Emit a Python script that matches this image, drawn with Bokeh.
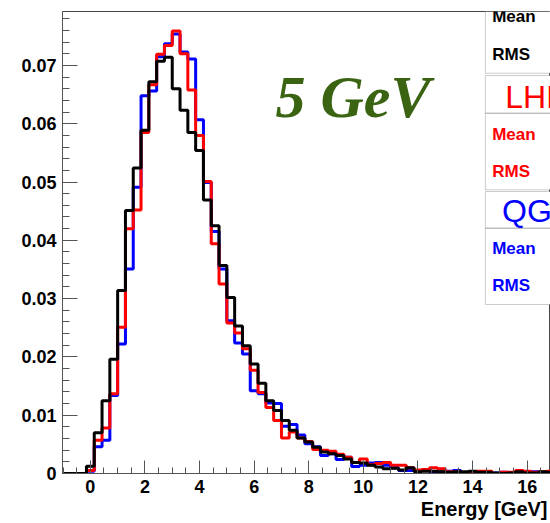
import numpy as np
from bokeh.plotting import figure
from bokeh.models import FixedTicker, Label, BoxAnnotation, CustomJSTickFormatter, Range1d, Title
from bokeh.embed import file_html
from bokeh.resources import INLINE

# histogram binning: first bin low edge and bin width (GeV)
bin_low = -1.0
bin_width = 2.0 / 7.0

# normalised bin contents (one value per bin, starting at bin_low)
black_vals = [0, 0, 0, 0.00125, 0.0070, 0.0125, 0.0196, 0.0314, 0.0451, 0.0524,
              0.0589, 0.0672, 0.0707, 0.0714, 0.0660, 0.0623, 0.0585, 0.0554, 0.0469, 0.0425,
              0.0357, 0.0302, 0.0253, 0.0219, 0.0188, 0.0155, 0.0125, 0.0108, 0.0091, 0.0074,
              0.0061, 0.0054, 0.0045, 0.0037, 0.0034, 0.0031, 0.0025, 0.0019, 0.0018, 0.0014,
              0.0011, 0.0008, 0.0009, 0.0006, 0.0010, 0.0003, 0.0004, 0.0004, 0.0003, 0.0002,
              0.0003, 0.0003, 0.0004, 0.0002, 0.0002, 0.0001, 0.0, 0.0001, 0.0003, 0.0001,
              0.0001, 0.0003, 0.0002]
red_vals = [0, 0, 0, 0.0005, 0.0057, 0.0078, 0.0137, 0.0251, 0.0420, 0.0452,
            0.0585, 0.0667, 0.0719, 0.0734, 0.0759, 0.0720, 0.0658, 0.0580, 0.0501, 0.0394,
            0.0325, 0.0258, 0.0241, 0.0214, 0.0177, 0.0139, 0.0113, 0.0091, 0.0061, 0.0071,
            0.0061, 0.0055, 0.0041, 0.0040, 0.0038, 0.0033, 0.0028, 0.0019, 0.0025, 0.0015,
            0.0017, 0.0019, 0.0014, 0.0014, 0.0010, 0.0006, 0.0007, 0.0010, 0.0008, 0.0003,
            0.0003, 0.0001, 0.0, 0.0004, 0.0004, 0.0, 0.0002, 0.0002, 0.0005, 0.0004,
            0.0002, 0.0003, 0.0004]
blue_vals = [0, 0, 0, 0.0004, 0.0046, 0.0057, 0.0134, 0.0222, 0.0351, 0.0491,
             0.0648, 0.0656, 0.0715, 0.0737, 0.0754, 0.0723, 0.0711, 0.0607, 0.0499, 0.0415,
             0.0351, 0.0262, 0.0224, 0.0205, 0.0142, 0.0137, 0.0121, 0.0120, 0.0081, 0.0084,
             0.0066, 0.0051, 0.0046, 0.0031, 0.0034, 0.0024, 0.0028, 0.0012, 0.0014, 0.0018,
             0.0019, 0.0014, 0.0010, 0.0005, 0.0005, 0.0005, 0.0005, 0.0003, 0.0003, 0.0004,
             0.0005, 0.0, 0.0002, 0.0002, 0.0002, 0.0001, 0.0002, 0.0001, 0.0002, 0.0002,
             0.0003, 0.0001, 0.0002]

x_ticks = [0, 2, 4, 6, 8, 10, 12, 14, 16]
y_ticks = [0, 0.01, 0.02, 0.03, 0.04, 0.05, 0.06, 0.07]

x_label = "Energy [GeV]"
energy_title = "5 GeV"
stat_titles = ["LHEP", "QGSP"]

FONT = "Liberation Sans"
X0, X1 = -1.02, 16.855
Y1 = 0.07925

p = figure(width=550, height=523, output_backend="svg", toolbar_location=None,
           x_range=Range1d(X0, X1), y_range=Range1d(0, Y1),
           min_border_left=62, min_border_right=0, min_border_top=11, min_border_bottom=50)
p.xgrid.visible = False
p.ygrid.visible = False
p.outline_line_color = "#444444"
p.outline_line_width = 1

n = len(black_vals)
edges = bin_low + bin_width * np.arange(n + 1)

def hist_line(vals, color):
    ys = list(vals) + [vals[-1]]
    p.step(x=edges, y=ys, mode="after", line_color=color, line_width=3)

hist_line(blue_vals, "#0000ff")
hist_line(red_vals, "#ff0000")
hist_line(black_vals, "#000000")

# axes styling (ROOT-like: ticks inside frame)
xa = p.xaxis[0]
ya = p.yaxis[0]
xa.ticker = FixedTicker(ticks=x_ticks, minor_ticks=list(np.arange(-1.0, 17.01, 0.5)))
ya.ticker = FixedTicker(ticks=y_ticks, minor_ticks=list(np.arange(0, 0.0792, 0.002)))
ya.formatter = CustomJSTickFormatter(code="return tick == 0 ? '0' : tick.toFixed(2);")
for ax in (xa, ya):
    ax.axis_line_color = "#555555"
    ax.major_tick_line_color = "#555555"
    ax.minor_tick_line_color = "#555555"
    ax.major_tick_out = 0
    ax.minor_tick_out = 0
    ax.major_label_text_font = FONT
    ax.major_label_text_font_style = "bold"
    ax.major_label_text_font_size = "18px"
    ax.major_label_text_color = "black"
xa.major_tick_in = 13
xa.minor_tick_in = 6
ya.major_tick_in = 15
ya.minor_tick_in = 7
xa.major_label_standoff = 6
ya.major_label_standoff = 6

# x-axis title, right aligned at the end of the axis (ROOT style)
p.add_layout(Title(text=x_label, align="right", offset=3, standoff=0,
                   text_font=FONT, text_font_style="bold", text_font_size="20px",
                   text_color="black"), "below")

# energy annotation
p.add_layout(Label(x=6.78, y=0.0645, text=energy_title, text_font="Liberation Serif",
                   text_font_style="bold italic", text_font_size="60px",
                   text_color="#3a6312", text_baseline="alphabetic"))

# statistics boxes (top right, partly outside the picture)
box_left = 14.47
boxes = [(Y1, 0.06866), (0.06827, 0.04866), (0.04837, 0.02899)]
for top, bottom in boxes:
    p.add_layout(BoxAnnotation(left=box_left, right=X1 + 1, top=top, bottom=bottom,
                               fill_color="white", fill_alpha=1.0,
                               line_color="#555555", line_width=1))
# separators between title and entries
for ysep in (0.0618, 0.04208):
    p.add_layout(BoxAnnotation(left=box_left, right=X1 + 1, top=ysep, bottom=ysep,
                               fill_alpha=0, line_color="#555555", line_width=1))

stat_rows = [("Mean", 0.07845, "black"), ("RMS", 0.07181, "black"),
             ("Mean", 0.05810, "#ff0000"), ("RMS", 0.05180, "#ff0000"),
             ("Mean", 0.03865, "#0000ff"), ("RMS", 0.03225, "#0000ff")]
for txt, yv, col in stat_rows:
    p.add_layout(Label(x=14.72, y=yv, text=txt, text_font=FONT, text_font_style="bold",
                       text_font_size="17px", text_color=col, text_baseline="middle"))

p.add_layout(Label(x=15.2, y=0.06455, text=stat_titles[0], text_font=FONT,
                   text_font_size="32px", text_color="#ff0000", text_baseline="middle"))
p.add_layout(Label(x=15.08, y=0.04510, text=stat_titles[1], text_font=FONT,
                   text_font_size="32px", text_color="#0000ff", text_baseline="middle"))

open("out.html", "w").write(file_html(p, INLINE))
